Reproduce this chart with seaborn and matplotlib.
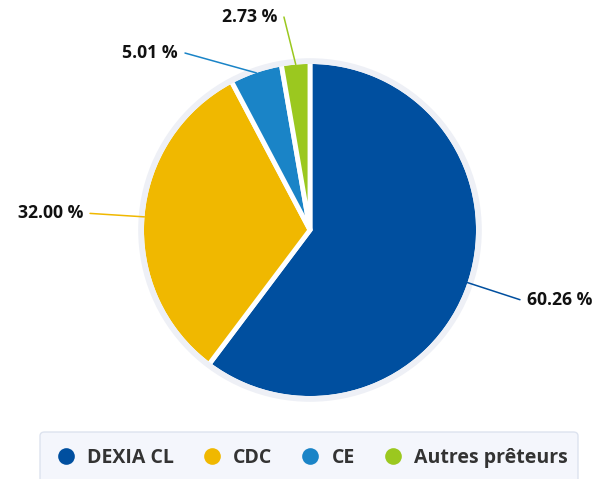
import numpy as np
import matplotlib
matplotlib.use("Agg")
import matplotlib.pyplot as plt
from matplotlib.lines import Line2D
from matplotlib.patches import Wedge, FancyBboxPatch
import seaborn as sns

# Data
lenders = ["DEXIA CL", "CDC", "CE", "Autres prêteurs"]
shares = [60.26, 32.00, 5.01, 2.73]
colors = ["#004f9f", "#f0b800", "#1a84c7", "#9bc81f"]
# label end points (in pie radius units, relative to centre)
label_pos = [(1.265, -0.42), (-1.325, 0.10), (-0.753, 1.066), (-0.157, 1.283)]

sns.set_theme(style="white")
plt.rcParams["font.family"] = ["Open Sans", "DejaVu Sans"]

W, H = 593, 479
fig = plt.figure(figsize=(W / 100, H / 100), dpi=100)
ax = fig.add_axes([0, 0, 1, 1])

R = 166.0
cx, cy = 310.0, H - 230.0

wedges, _ = ax.pie(shares, colors=colors, startangle=90, counterclock=False,
                   radius=1.015, wedgeprops=dict(edgecolor="white", linewidth=3.5))
for w in wedges:
    w.set_zorder(2)

# light halo ring around the pie (covers the outer white stroke)
ax.add_patch(Wedge((0, 0), 1.035, 0, 360, width=0.035, facecolor="#eef0f6",
                   edgecolor="none", zorder=3))

# labels with connectors
start = 90.0
for val, col, (lx, ly) in zip(shares, colors, label_pos):
    mid = np.deg2rad(start - val * 3.6 / 2)
    start -= val * 3.6
    px, py = 1.0 * np.cos(mid), 1.0 * np.sin(mid)
    ax.plot([px, lx], [py, ly], color=col, lw=1.1, zorder=4, clip_on=False)
    ha = "left" if lx > 0 else "right"
    tx = lx + (0.042 if lx > 0 else -0.042)
    ax.text(tx, ly, f"{val:.2f} %", ha=ha, va="center", fontsize=12.7,
            fontweight="bold", color="#111111")

ax.set_xlim(-cx / R, (W - cx) / R)
ax.set_ylim(-cy / R, (H - cy) / R)
ax.set_aspect("auto")
ax.axis("off")

# legend box
box = FancyBboxPatch((40 / W, -20 / H), 538 / W, (479 - 432 + 20) / H,
                     boxstyle="round,pad=0,rounding_size=0.008",
                     transform=fig.transFigure, facecolor="#f4f6fc",
                     edgecolor="#dde3ef", linewidth=1.0, zorder=0)
fig.patches.append(box)

handles = [Line2D([], [], marker="o", ls="", markersize=12, color=c,
                  markeredgewidth=0) for c in colors]
leg = fig.legend(handles, lenders, ncol=4, loc="center",
                 bbox_to_anchor=(313 / W, 1 - 458 / H), frameon=False,
                 handlelength=0.8, handletextpad=0.7, columnspacing=1.55,
                 prop=dict(family="Open Sans", weight="bold", size=14))
for t in leg.get_texts():
    t.set_color("#333333")

fig.savefig("out.png", dpi=100)
